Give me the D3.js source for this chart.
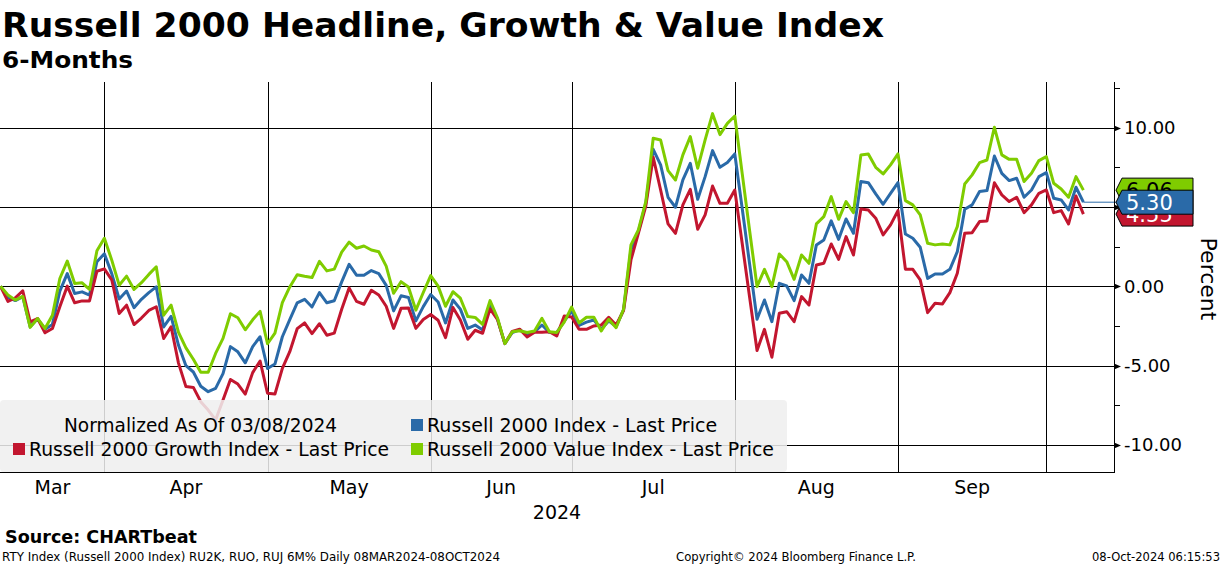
<!DOCTYPE html>
<html>
<head>
<meta charset="utf-8">
<script src="https://cdnjs.cloudflare.com/ajax/libs/d3/7.8.5/d3.min.js"></script>
<style>
	body { margin: 0; background: #fff; }
	svg { display: block; font-family: "DejaVu Sans", Verdana, sans-serif; }
</style>
</head>
<body>
<svg id="chart" width="1224" height="566"></svg>
<script>
// ****** Data (daily points, 08MAR2024 - 08OCT2024, % change since 03/08/2024)
var monthLabels = ['Mar', 'Apr', 'May', 'Jun', 'Jul', 'Aug', 'Sep'];
var monthStarts = [0, 14, 36, 58, 77, 99, 121, 141];	// point index where each month begins
var yTicks = [-10, -5, 0, 5, 10];
var yMinorTicks = [-7.5, -2.5, 2.5, 7.5, 12.5];

var rtyIndex = [
	0, -0.7, -0.9, -0.65, -2.55, -2.05, -2.7, -2.4, -0.3, 0.8,
	-0.45, -0.35, -0.55, 1.55, 2.05, 0.8, -0.8, -0.3, -1.35, -0.82,
	-0.4, -0.04, -2.56, -1.9, -3.72, -5.0, -5.4, -6.3, -6.64, -6.43,
	-5.5, -3.8, -4.13, -4.82, -3.8, -3.18, -5.18, -4.9, -3.18, -2.1,
	-1.05, -0.82, -1.3, -0.4, -1.04, -0.91, 0.28, 1.38, 0.7, 0.69,
	0.99, 0.8, 0.06, -1.55, -0.6, -0.7, -2.18, -1.28, -0.52, -0.99,
	-2.31, -0.86, -1.44, -2.65, -2.44, -2.75, -1.07, -2.07, -3.61, -2.91,
	-2.75, -3.01, -2.88, -2.44, -2.9, -2.92, -2.2, -1.56, -2.47, -2.26,
	-2.12, -2.7, -2.18, -2.54, -1.49, 2.29, 3.45, 5.23, 8.63, 7.65,
	5.61, 4.98, 6.7, 7.75, 5.48, 6.91, 8.55, 7.5, 7.8, 8.34,
	4.9, 1.4, -2.08, -0.86, -2.23, 0.19, 0.02, -0.9, 0.71, 0.19,
	2.61, 2.92, 4.12, 2.96, 4.24, 3.34, 6.6, 6.53, 5.82, 5.17,
	5.86, 6.53, 3.3, 3.03, 2.46, 0.5, 0.78, 0.78, 1.07, 2.18,
	4.85, 5.13, 5.97, 6.03, 8.21, 7.12, 6.66, 6.81, 5.61, 6.07,
	6.91, 7.16, 5.55, 5.44, 4.81, 6.24, 5.30
];
var rtyGrowth = [
	0, -0.95, -0.73, -0.28, -2.24, -2.03, -2.93, -2.66, -1.29, 0.01,
	-1.04, -0.92, -0.92, 0.95, 1.1, 0.41, -1.71, -1.19, -2.41, -2.0,
	-1.52, -1.29, -3.29, -2.55, -4.84, -6.32, -6.37, -7.27, -7.8, -8.42,
	-7.16, -5.87, -6.16, -6.79, -5.44, -4.71, -6.74, -6.79, -5.17, -4.12,
	-2.67, -2.31, -2.98, -2.36, -3.08, -2.95, -1.45, -0.1, -0.95, -1.13,
	-0.25, -0.55, -1.26, -2.65, -1.39, -1.36, -2.65, -2.09, -1.78, -2.14,
	-3.24, -1.34, -2.12, -3.34, -2.77, -2.96, -1.42, -2.08, -3.61, -2.84,
	-2.7, -3.19, -2.89, -2.9, -2.86, -3.13, -1.87, -1.93, -2.71, -2.71,
	-2.5, -2.44, -1.95, -2.44, -1.53, 1.66, 3.34, 5.06, 8.13, 6.07,
	3.93, 3.34, 5.13, 6.11, 3.59, 4.5, 6.32, 5.23, 5.23, 6.07,
	2.7, -0.7, -4.05, -2.71, -4.47, -1.7, -1.6, -2.23, -0.65, -1.18,
	1.34, 1.45, 2.67, 1.7, 3.13, 1.97, 4.87, 4.81, 4.29, 3.24,
	3.87, 4.77, 1.08, 1.07, 0.4, -1.66, -1.07, -1.11, -0.4, 0.82,
	3.34, 3.38, 4.08, 4.12, 6.53, 5.76, 5.34, 5.61, 4.64, 5.13,
	5.86, 6.07, 4.64, 4.77, 3.93, 5.69, 4.55
];
var rtyValue = [
	0, -0.55, -0.87, -0.64, -2.59, -2.03, -2.66, -1.82, 0.49, 1.59,
	0.18, 0.22, -0.2, 2.24, 3.03, 1.65, 0.07, 0.64, -0.2, 0.23,
	0.75, 1.23, -1.82, -1.19, -2.9, -3.88, -4.6, -5.42, -5.42, -4.23,
	-3.28, -1.73, -1.98, -2.74, -2.11, -1.58, -3.62, -2.95, -1.03, -0.04,
	0.73, 0.63, 0.55, 1.57, 0.97, 1.08, 2.15, 2.78, 2.4, 2.54,
	2.29, 2.18, 1.27, -0.44, 0.29, -0.04, -1.5, -0.39, 0.67, 0.01,
	-1.26, -0.34, -0.75, -1.91, -1.96, -2.4, -0.9, -1.98, -3.61, -2.86,
	-2.8, -2.91, -2.82, -2.02, -2.86, -2.91, -2.26, -1.31, -2.31, -1.95,
	-1.95, -2.82, -2.08, -2.61, -1.45, 2.61, 3.55, 5.34, 9.33, 9.22,
	7.29, 6.7, 8.28, 9.43, 7.44, 9.22, 10.88, 9.56, 10.27, 10.73,
	7.1, 3.5, -0.02, 1.07, -0.02, 2.04, 1.55, 0.44, 1.97, 1.45,
	3.93, 4.39, 5.65, 4.22, 5.34, 4.64, 8.28, 8.34, 7.5, 7.08,
	7.65, 8.34, 5.4, 5.13, 4.5, 2.71, 2.61, 2.67, 2.61, 3.76,
	6.45, 7.02, 7.79, 7.96, 10.02, 8.28, 8.0, 8.0, 6.6, 7.12,
	7.92, 8.17, 6.49, 6.13, 5.61, 6.91, 6.06
];

var series = [	// draw order: index, growth, value on top
	{name: 'Russell 2000 Index - Last Price', values: rtyIndex, color: '#2a6aa8'},
	{name: 'Russell 2000 Growth Index - Last Price', values: rtyGrowth, color: '#c2162f'},
	{name: 'Russell 2000 Value Index - Last Price', values: rtyValue, color: '#7fcc00'}
];

// ****** Layout
var plot = {left: 0, right: 1114, top: 82, bottom: 472};
var svg = d3.select('#chart');

var x = d3.scaleLinear().domain([0, rtyIndex.length - 1]).range([0.5, 1083.4]);
var y = d3.scaleLinear().domain([-10, 10]).range([445, 127.6]);

function fit(t, w) {
	var n = t.node().getComputedTextLength();
	if (Math.abs(n - w) > 1) t.attr('textLength', w).attr('lengthAdjust', 'spacingAndGlyphs');
	return t;
}

// ****** Titles
fit(svg.append('text').attr('x', 2).attr('y', 37).attr('font-size', 34).attr('font-weight', 'bold')
	.text('Russell 2000 Headline, Growth & Value Index'), 882);
fit(svg.append('text').attr('x', 2).attr('y', 68).attr('font-size', 23).attr('font-weight', 'bold')
	.text('6-Months'), 131);

// ****** Grid
var grid = svg.append('g').attr('stroke', '#000').attr('stroke-width', 1).attr('shape-rendering', 'crispEdges');
grid.selectAll('.hg').data(yTicks).enter().append('line')
	.attr('x1', plot.left).attr('x2', plot.right)
	.attr('y1', function(d) { return Math.round(y(d)) + 0.5; })
	.attr('y2', function(d) { return Math.round(y(d)) + 0.5; });
grid.selectAll('.vg').data(monthStarts.slice(1)).enter().append('line')
	.attr('x1', function(d) { return Math.round(x(d)) + 0.5; })
	.attr('x2', function(d) { return Math.round(x(d)) + 0.5; })
	.attr('y1', plot.top).attr('y2', plot.bottom);

// ****** Series
var clip = svg.append('clipPath').attr('id', 'plotclip').append('rect')
	.attr('x', plot.left).attr('y', plot.top).attr('width', plot.right - plot.left).attr('height', plot.bottom - plot.top);
var line = d3.line().x(function(d, i) { return x(i); }).y(function(d) { return y(d); });
var lines = svg.append('g').attr('clip-path', 'url(#plotclip)');
series.forEach(function(s) {
	lines.append('path').datum(s.values).attr('d', line)
		.attr('fill', 'none').attr('stroke', s.color).attr('stroke-width', 3)
		.attr('stroke-linejoin', 'round');
});
// thin connector from last index point to its tag
var last = rtyIndex[rtyIndex.length - 1];
svg.append('line').attr('x1', x(rtyIndex.length - 1)).attr('x2', plot.right + 4)
	.attr('y1', y(last)).attr('y2', y(last)).attr('stroke', '#2a6aa8').attr('stroke-width', 1);

// ****** Legend
var lg = svg.append('g');
lg.append('rect').attr('x', 0).attr('y', 400).attr('width', 787).attr('height', 72).attr('rx', 4)
	.attr('fill', '#efefef').attr('fill-opacity', 0.86);
fit(lg.append('text').attr('x', 64).attr('y', 432).attr('font-size', 19).text('Normalized As Of 03/08/2024'), 273);
var legendPos = [
	{s: series[0], x: 411, y: 432, w: 290},
	{s: series[1], x: 13, y: 456, w: 360},
	{s: series[2], x: 411, y: 456, w: 347}
];
legendPos.forEach(function(p) {
	lg.append('rect').attr('x', p.x).attr('y', p.y - 13).attr('width', 12).attr('height', 12).attr('fill', p.s.color);
	fit(lg.append('text').attr('x', p.x + 16).attr('y', p.y).attr('font-size', 19).text(p.s.name), p.w);
});

// ****** Axes
svg.append('line').attr('x1', plot.left).attr('x2', plot.right + 0.5).attr('y1', plot.bottom + 0.5).attr('y2', plot.bottom + 0.5)
	.attr('stroke', '#000').attr('shape-rendering', 'crispEdges');
svg.append('line').attr('x1', plot.right + 0.5).attr('x2', plot.right + 0.5).attr('y1', plot.top).attr('y2', plot.bottom + 0.5)
	.attr('stroke', '#000').attr('shape-rendering', 'crispEdges');

var ax = svg.append('g');
ax.selectAll('.minor').data(yMinorTicks).enter().append('line')
	.attr('x1', plot.right).attr('x2', plot.right + 6)
	.attr('y1', function(d) { return Math.round(y(d)) + 0.5; })
	.attr('y2', function(d) { return Math.round(y(d)) + 0.5; })
	.attr('stroke', '#000').attr('shape-rendering', 'crispEdges');
ax.selectAll('.major').data(yTicks).enter().append('path')
	.attr('d', function(d) {
		var yy = Math.round(y(d)) + 0.5;
		return 'M' + plot.right + ',' + (yy - 3) + 'L' + (plot.right + 7) + ',' + yy + 'L' + plot.right + ',' + (yy + 3) + 'Z';
	})
	.attr('fill', '#000');
ax.selectAll('.lbl').data(yTicks).enter().append('text')
	.attr('x', 1124)
	.attr('y', function(d) { return y(d); }).attr('dy', '0.36em')
	.attr('font-size', 18).text(function(d) { return (d < 0 ? '-' : '') + d3.format('.2f')(Math.abs(d)); });

svg.append('text').attr('transform', 'translate(1201,279) rotate(90)').attr('text-anchor', 'middle')
	.attr('font-size', 22).text('Percent');

// month labels centred in each month
svg.selectAll('.month').data(monthLabels).enter().append('text')
	.attr('x', function(d, i) { return x((monthStarts[i] + monthStarts[i + 1]) / 2); })
	.attr('y', 494).attr('text-anchor', 'middle').attr('font-size', 19).text(function(d) { return d; });
svg.append('text').attr('x', 557).attr('y', 519).attr('text-anchor', 'middle').attr('font-size', 19).text('2024');

// ****** Last value tags
function tag(s, textColor) {
	var v = s.values[s.values.length - 1];
	var cy = y(v), h = 24, x0 = 1116, x1 = 1122, x2 = 1193;
	var g = svg.append('g');
	g.append('path')
		.attr('d', 'M' + x0 + ',' + cy + 'L' + x1 + ',' + (cy - h / 2) + 'L' + x2 + ',' + (cy - h / 2) +
			'L' + x2 + ',' + (cy + h / 2) + 'L' + x1 + ',' + (cy + h / 2) + 'Z')
		.attr('fill', s.color).attr('stroke', '#000').attr('stroke-width', 1);
	g.append('text').attr('x', 1126).attr('y', cy).attr('dy', '0.36em').attr('font-size', 21)
		.attr('fill', textColor).text(d3.format('.2f')(v));
}
tag(series[2], '#000');
tag(series[1], '#fff');
tag(series[0], '#fff');

// ****** Footer
fit(svg.append('text').attr('x', 5).attr('y', 543).attr('font-size', 17).attr('font-weight', 'bold')
	.text('Source: CHARTbeat'), 192);
fit(svg.append('text').attr('x', 2).attr('y', 561).attr('font-size', 12)
	.text('RTY Index (Russell 2000 Index) RU2K, RUO, RUJ 6M%  Daily 08MAR2024-08OCT2024'), 498);
fit(svg.append('text').attr('x', 676).attr('y', 561).attr('font-size', 12)
	.text('Copyright\u00a9 2024 Bloomberg Finance L.P.'), 240);
fit(svg.append('text').attr('x', 1092).attr('y', 561).attr('font-size', 12)
	.text('08-Oct-2024 06:15:53'), 128);
</script>
</body>
</html>
